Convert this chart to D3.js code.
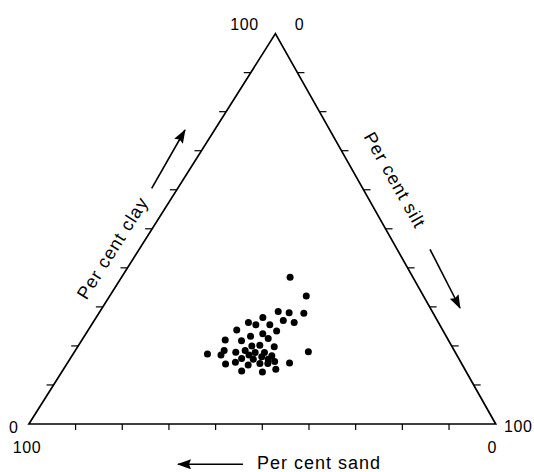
<!DOCTYPE html>
<html>
<head>
<meta charset="utf-8">
<script src="https://cdn.jsdelivr.net/npm/d3@7"></script>
<style>
  html, body { margin: 0; padding: 0; background: #fff; }
  text { font-family: "Liberation Sans", Arial, sans-serif; fill: #000; }
  .tick-label { font-size: 16px; letter-spacing: 0.6px; }
  .axis-label { font-size: 18px; letter-spacing: 1px; }
</style>
</head>
<body>
<div id="chart"></div>
<script>
// per cent clay / silt for each sample (sand = 100 - clay - silt)
const clay = [37.6, 32.8, 28.8, 28.5, 28.4, 27.3, 26.5, 26.0, 26.0, 25.4,
  25.4, 24.1, 23.8, 23.1, 22.5, 21.5, 21.3, 21.9, 20.2, 20.0,
  19.8, 18.8, 18.4, 18.8, 18.3, 18.3, 18.5, 17.9, 17.7, 17.7,
  17.5, 17.2, 16.8, 16.6, 16.6, 15.4, 15.8, 15.1, 15.5, 16.0,
  15.6, 13.6, 13.3, 14.0, 15.5];
const silt = [36.1, 42.1, 38.2, 40.7, 43.9, 35.7, 40.5, 43.1, 33.3, 35.2,
  38.2, 31.8, 40.5, 37.9, 35.6, 30.7, 34.3, 39.7, 38.8, 37.2,
  42.1, 31.9, 34.6, 36.4, 38.8, 40.8, 50.1, 28.8, 31.8, 37.8,
  42.8, 40.8, 36.7, 39.3, 42.5, 34.0, 35.9, 39.0, 41.3, 44.2,
  47.6, 38.4, 43.0, 45.5, 43.0];
const tickValues = [10, 20, 30, 40, 50, 60, 70, 80, 90];

const width = 534;
const height = 472;
const corner = { left: [28.9, 424], right: [495.7, 424], top: [275.4, 33.6] };

const svg = d3.select('#chart').append('svg').attr('width', width).attr('height', height);

// clay -> vertical, silt -> along the base, clay also shifts towards the apex
const y = d3.scaleLinear().domain([0, 100]).range([corner.left[1], corner.top[1]]);
const xBase = d3.scaleLinear().domain([0, 100]).range([corner.left[0], corner.right[0]]);
const shift = d3.scaleLinear().domain([0, 100]).range([0, corner.top[0] - corner.left[0]]);
const project = (c, s) => [xBase(s) + shift(c), y(c)];

svg.append('path')
  .attr('d', d3.line()([project(0, 0), project(100, 0), project(0, 100)]) + 'Z')
  .attr('fill', 'none')
  .attr('stroke', '#000')
  .attr('stroke-width', 1.7)
  .attr('stroke-linejoin', 'miter');

const ticks = svg.append('g').attr('stroke', '#000').attr('stroke-width', 1.2);
// sand ticks on the base, clay ticks on the left, silt ticks on the right
tickValues.forEach((v) => {
  const b = project(0, 100 - v);
  ticks.append('line').attr('x1', b[0]).attr('y1', b[1]).attr('x2', b[0]).attr('y2', b[1] + 6);
  const l = project(v, 0);
  ticks.append('line').attr('x1', l[0]).attr('y1', l[1]).attr('x2', l[0] - 7).attr('y2', l[1]);
  const r = project(100 - v, v);
  ticks.append('line').attr('x1', r[0]).attr('y1', r[1]).attr('x2', r[0] + 7).attr('y2', r[1]);
});

const labels = [
  ['100', 258.7, 29.5, 'end'],
  ['0', 294.7, 29.5, 'start'],
  ['0', 18.5, 433, 'end'],
  ['100', 12.7, 453, 'start'],
  ['100', 504, 432, 'start'],
  ['0', 497, 453, 'end']
];
labels.forEach(([t, lx, ly, anchor]) => {
  svg.append('text').attr('class', 'tick-label').attr('x', lx).attr('y', ly).attr('text-anchor', anchor).text(t);
});

svg.append('defs').append('marker')
  .attr('id', 'head')
  .attr('viewBox', '0 0 14 10')
  .attr('refX', 13)
  .attr('refY', 5)
  .attr('markerUnits', 'userSpaceOnUse')
  .attr('markerWidth', 14)
  .attr('markerHeight', 10)
  .attr('orient', 'auto')
  .append('path')
  .attr('d', 'M0,0L14,5L0,10L2,5Z')
  .attr('fill', '#000');

const leftAngle = -Math.atan2(corner.left[1] - corner.top[1], corner.top[0] - corner.left[0]) * 180 / Math.PI;
const rightAngle = Math.atan2(corner.right[1] - corner.top[1], corner.right[0] - corner.top[0]) * 180 / Math.PI;

svg.append('text').attr('class', 'axis-label')
  .attr('transform', `translate(112.5,248) rotate(${leftAngle})`)
  .attr('text-anchor', 'middle').attr('dy', '0.35em')
  .text('Per cent clay');
svg.append('text').attr('class', 'axis-label')
  .attr('transform', `translate(395,180) rotate(${rightAngle})`)
  .attr('text-anchor', 'middle').attr('dy', '0.35em')
  .text('Per cent silt');
svg.append('text').attr('class', 'axis-label')
  .attr('x', 257).attr('y', 469)
  .text('Per cent sand');

const arrows = [
  [[151.7, 188.3], [185, 130]],
  [[430, 249.3], [460, 308]],
  [[243, 464.3], [178, 464.3]]
];
svg.append('g').selectAll('line').data(arrows).join('line')
  .attr('x1', (d) => d[0][0]).attr('y1', (d) => d[0][1])
  .attr('x2', (d) => d[1][0]).attr('y2', (d) => d[1][1])
  .attr('stroke', '#000')
  .attr('stroke-width', 1.6)
  .attr('marker-end', 'url(#head)');

const samples = clay.map((c, i) => ({ clay: c, silt: silt[i], sand: 100 - c - silt[i] }));
svg.append('g').selectAll('circle').data(samples).join('circle')
  .attr('cx', (d) => project(d.clay, d.silt)[0])
  .attr('cy', (d) => project(d.clay, d.silt)[1])
  .attr('r', 3.5)
  .attr('fill', '#000');
</script>
</body>
</html>
